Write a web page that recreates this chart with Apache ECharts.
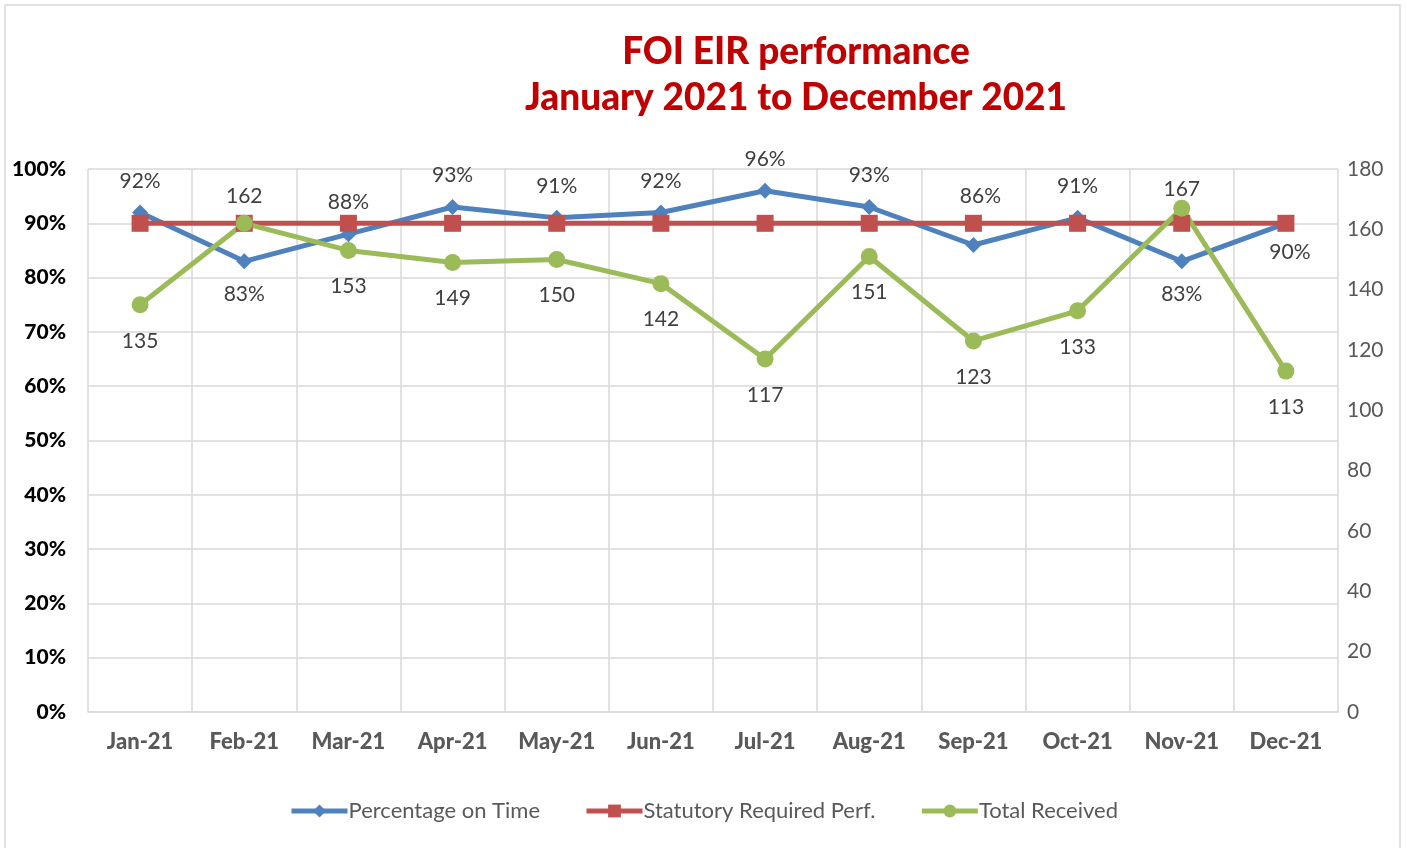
<!doctype html>
<html>
<head>
  <meta charset="utf-8">
  <title>FOI EIR performance</title>
  <script src="https://cdn.jsdelivr.net/npm/echarts@6/dist/echarts.min.js"></script>
  <style>
    html, body { margin: 0; padding: 0; background: #fff; }
    #chart { width: 1407px; height: 848px; }
  </style>
</head>
<body>
<div id="chart"></div>
<script type="text/javascript">
  // data
  var months = ['Jan-21', 'Feb-21', 'Mar-21', 'Apr-21', 'May-21', 'Jun-21',
                'Jul-21', 'Aug-21', 'Sep-21', 'Oct-21', 'Nov-21', 'Dec-21'];
  var pctOnTime = [92, 83, 88, 93, 91, 92, 96, 93, 86, 91, 83, 90];
  var required = [90, 90, 90, 90, 90, 90, 90, 90, 90, 90, 90, 90];
  var totalReceived = [135, 162, 153, 149, 150, 142, 117, 151, 123, 133, 167, 113];
  var pctTicks = [0, 10, 20, 30, 40, 50, 60, 70, 80, 90, 100];

  // which labels sit under their point
  var pctBelow = [1, 10, 11];
  var totalAbove = [1, 10];

  var labelFont = 'Lato, "Noto Sans", sans-serif';

  var pctData = pctOnTime.map(function (v, i) {
    var below = pctBelow.indexOf(i) >= 0;
    return {
      value: v,
      label: {
        position: below ? 'bottom' : 'top',
        distance: below ? (i === 11 ? 10 : 14) : (i === 8 ? 30 : 13),
        offset: i === 11 ? [4, 0] : (i === 8 ? [7, 0] : [0, 0])
      }
    };
  });

  var totalData = totalReceived.map(function (v, i) {
    var above = totalAbove.indexOf(i) >= 0;
    return {
      value: v,
      label: {
        position: above ? 'top' : 'bottom',
        distance: above ? (i === 10 ? 0 : 8) : 17
      }
    };
  });

  var chart = echarts.init(document.getElementById('chart'));

  var option = {
    animation: false,
    backgroundColor: '#fff',
    title: {
      text: 'FOI EIR performance\nJanuary 2021 to December 2021',
      left: 791,
      top: 24,
      textAlign: 'center',
      textStyle: {
        fontFamily: 'Lato, sans-serif',
        fontWeight: 900,
        fontSize: 37,
        lineHeight: 46,
        color: '#C00000'
      }
    },
    graphic: [{
      type: 'rect',
      shape: { x: 5, y: 5, width: 1395, height: 860 },
      style: { fill: 'none', stroke: '#D9D9D9', lineWidth: 1.5 },
      silent: true
    }],
    legend: {
      bottom: 21,
      left: 'center',
      itemWidth: 56,
      itemHeight: 16,
      itemGap: 44,
      lineStyle: { width: 5 },
      textStyle: { fontFamily: labelFont, fontSize: 22, color: '#595959', padding: [0, 0, 0, -4] },
      data: ['Percentage on Time', 'Statutory Required Perf.', 'Total Received']
    },
    grid: { left: 88, right: 69, top: 169, bottom: 136 },
    xAxis: {
      type: 'category',
      data: months,
      boundaryGap: true,
      axisLine: { lineStyle: { color: '#D9D9D9', width: 1.5 } },
      axisTick: { show: false },
      splitLine: { show: true, lineStyle: { color: '#D9D9D9', width: 1.5 } },
      axisLabel: {
        margin: 19,
        fontFamily: 'Lato, sans-serif',
        fontWeight: 900,
        fontSize: 22,
        color: '#595959'
      }
    },
    yAxis: [{
      type: 'value',
      min: pctTicks[0],
      max: pctTicks[pctTicks.length - 1],
      interval: 10,
      axisLine: { show: false },
      axisTick: { show: false },
      splitLine: { lineStyle: { color: '#D9D9D9', width: 1.5 } },
      axisLabel: {
        margin: 22,
        fontFamily: 'Lato, sans-serif',
        fontWeight: 900,
        fontSize: 21,
        color: '#000',
        formatter: '{value}%'
      }
    }, {
      type: 'value',
      min: 0,
      max: 180,
      interval: 20,
      axisLine: { show: false },
      axisTick: { show: false },
      splitLine: { show: false },
      axisLabel: {
        margin: 9,
        fontFamily: labelFont,
        fontSize: 21,
        color: '#595959'
      }
    }],
    series: [{
      name: 'Percentage on Time',
      type: 'line',
      yAxisIndex: 0,
      data: pctData,
      symbol: 'diamond',
      symbolSize: 16,
      lineStyle: { width: 5, color: '#4F81BD' },
      itemStyle: { color: '#4F81BD' },
      label: {
        show: true,
        formatter: '{c}%',
        fontFamily: labelFont,
        fontSize: 21,
        color: '#404040'
      }
    }, {
      name: 'Statutory Required Perf.',
      type: 'line',
      yAxisIndex: 0,
      data: required,
      symbol: 'rect',
      symbolSize: 17,
      lineStyle: { width: 5, color: '#C0504D' },
      itemStyle: { color: '#C0504D' }
    }, {
      name: 'Total Received',
      type: 'line',
      yAxisIndex: 1,
      data: totalData,
      symbol: 'circle',
      symbolSize: 17,
      lineStyle: { width: 5, color: '#9BBB59' },
      itemStyle: { color: '#9BBB59' },
      label: {
        show: true,
        fontFamily: labelFont,
        fontSize: 21,
        color: '#404040'
      }
    }]
  };

  chart.setOption(option);
</script>
</body>
</html>
